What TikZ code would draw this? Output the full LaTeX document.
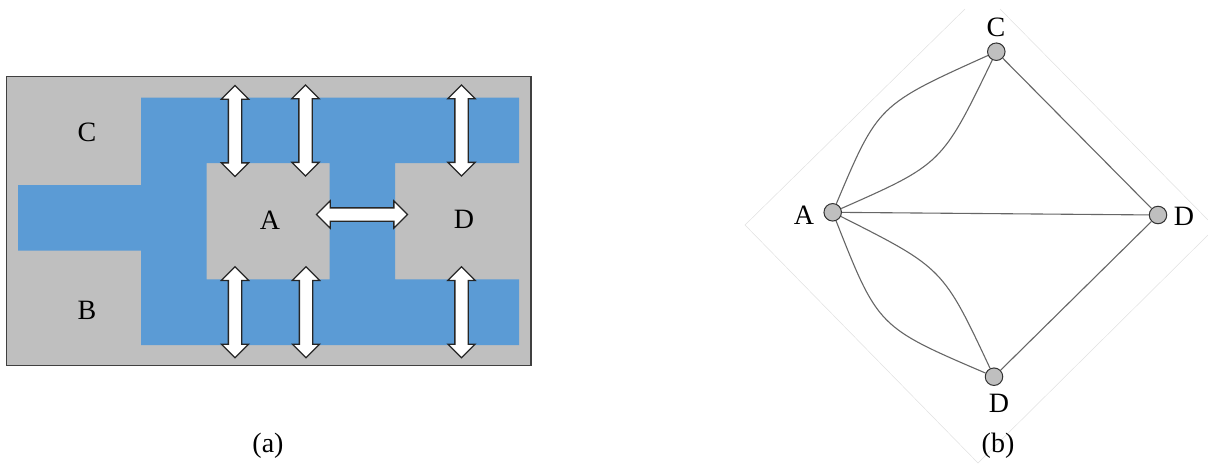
\documentclass[tikz,border=0pt]{standalone}
\usepackage{fontspec}
\setmainfont{Liberation Serif}
\usetikzlibrary{shapes.arrows}
\definecolor{panel}{HTML}{BFBFBF}
\definecolor{water}{HTML}{5B9BD5}
\tikzset{
  lab/.style={font=\fontsize{28}{32}\selectfont,text=black,inner sep=0pt},
  dbl/.style={double arrow,draw=black!85,fill=white,line width=1.3pt,inner sep=6pt,
    minimum height=91pt,double arrow head extend=7pt,
    double arrow head indent=0pt,shape border rotate=#1},
  dbl/.default=90,
  vertex/.style={circle,draw=black!80,fill=panel,line width=1pt,minimum size=17.5pt,inner sep=0pt},
  edge/.style={draw=black!60,line width=1.1pt},
  frame/.style={draw=black!12,line width=0.5pt}
}
\begin{document}
\begin{tikzpicture}[x=1pt,y=-1pt]
\useasboundingbox (0,0) rectangle (1208,464);
% panel (a)
\draw[fill=panel,draw=black!75,line width=1.3pt] (6.5,76.5) rectangle (531,365.5);
\fill[water] (18,185) -- (141,185) -- (141,97.5) -- (519,97.5) -- (519,163) -- (395,163)
  -- (395,279.3) -- (519,279.3) -- (519,345) -- (141,345) -- (141,250.7) -- (18,250.7)
  -- cycle (206.5,163) -- (206.5,279.3) -- (329.5,279.3) -- (329.5,163) -- cycle;
\node[dbl] (a1) at (235,131) {};
\node[dbl] (a2) at (305.5,130.5) {};
\node[dbl] (a3) at (461.5,130.5) {};
\node[dbl] (a4) at (235,312.3) {};
\node[dbl] (a5) at (306,312.3) {};
\node[dbl] (a6) at (461.5,312.3) {};
\node[dbl=0] (a7) at (362,214.5) {};
\node[lab] (lc) at (87,132) {C};
\node[lab] (lb) at (87,310) {B};
\node[lab] (la) at (270,220) {A};
\node[lab] (ld) at (464,219) {D};
\node[lab] (capa) at (268,446) {(a)};
% panel (b)
\draw[frame] (965,9) -- (745,225) -- (978,463) -- (1208,235);
\draw[frame] (1000,9) -- (1208,220);
\node[vertex] (A) at (832.7,212.3) {};
\node[vertex] (C) at (996.3,51.7) {};
\node[vertex] (D) at (1158,215) {};
\node[vertex] (E) at (994,376.7) {};
\draw[edge] (A) .. controls (878,105) and (878,105) .. (C);
\draw[edge] (A) .. controls (942,164) and (942,164) .. (C);
\draw[edge] (A) .. controls (878,327) and (878,327) .. (E);
\draw[edge] (A) .. controls (943,268) and (943,268) .. (E);
\draw[edge] (A) -- (D);
\draw[edge] (C) -- (D);
\draw[edge] (E) -- (D);
\node[lab] (tc) at (996,27) {C};
\node[lab] (ta) at (804,215) {A};
\node[lab] (td) at (1184,216) {D};
\node[lab] (te) at (999,403) {D};
\node[lab] (capb) at (998,446) {(b)};
\end{tikzpicture}
\end{document}
